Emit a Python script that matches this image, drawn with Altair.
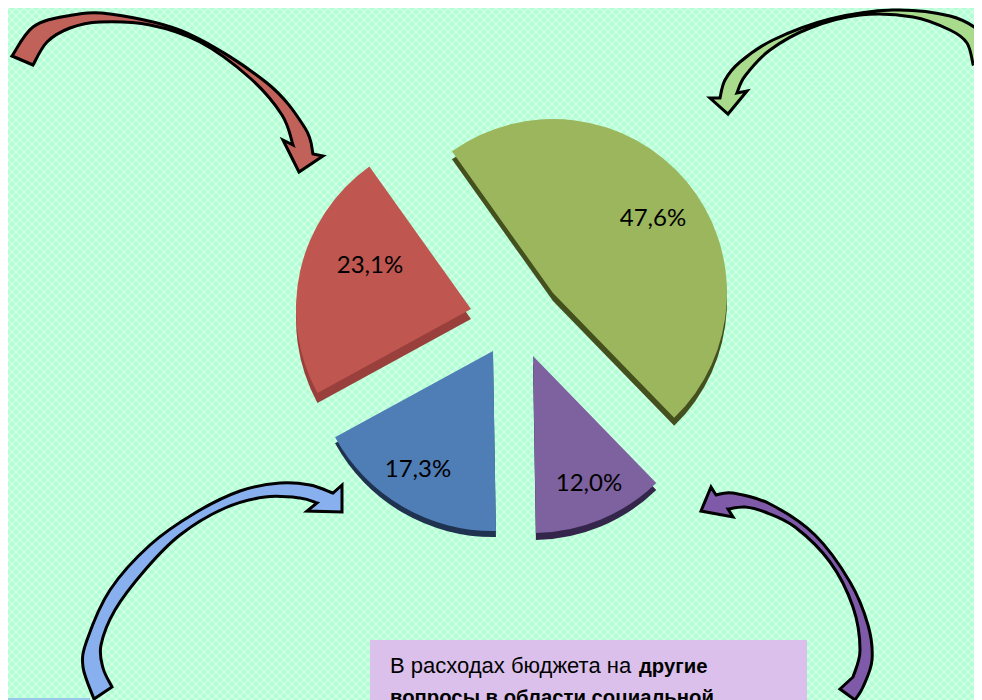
import numpy as np
import pandas as pd
import altair as alt

# ---- chart values ----
shares = [47.6, 12.0, 17.3, 23.1]
labels = ["47,6%", "12,0%", "17,3%", "23,1%"]
colors = ["#9BB65C", "#7E619F", "#4F7DB6", "#BF5650"]
sides = ["#45501F", "#33264A", "#1F3350", "#9A403C"]

# ---- layout (page pixels of the reference; the page margin is taken off) ----
M = 8
W, H = 966, 692
apex_x = [553, 533, 493, 471]
apex_y = [293, 356, 351, 309]
radii = [174, 177, 180, 175]
depth = [8, 7, 6, 10]
label_x = [653, 589, 418, 370]
label_y = [219, 484, 470, 266]
first_angle = np.radians(-35.5)

end = np.cumsum(shares)
start = end - np.array(shares)
pie = pd.DataFrame({
    "share": shares, "label": labels, "color": colors, "side": sides,
    "start": start, "end": end,
    "x": np.array(apex_x) - M, "y": np.array(apex_y) - M,
    "ys": np.array(apex_y) - M + np.array(depth),
    "r": radii,
    "lx": np.array(label_x) - M, "ly": np.array(label_y) - M,
})

theta_scale = alt.Scale(domain=[0, 100], range=[first_angle, first_angle + 2 * np.pi])


def smooth(points):
    """Catmull-Rom path through outline points of a hand-drawn curve."""
    p = [points[0]] + points + [points[-1]]
    out = f"L{points[0][0]} {points[0][1]}"
    for i in range(1, len(p) - 2):
        c1 = (p[i][0] + (p[i + 1][0] - p[i - 1][0]) / 6, p[i][1] + (p[i + 1][1] - p[i - 1][1]) / 6)
        c2 = (p[i + 1][0] - (p[i + 2][0] - p[i][0]) / 6, p[i + 1][1] - (p[i + 2][1] - p[i][1]) / 6)
        out += f"C{c1[0]:.1f} {c1[1]:.1f} {c2[0]:.1f} {c2[1]:.1f} {p[i+1][0]} {p[i+1][1]}"
    return out


def arrow(outer, head, inner):
    d = "M" + smooth(outer)[1:]
    for q in head:
        d += f"L{q[0]} {q[1]}"
    d += smooth(inner) + "Z"
    return d


red_arrow = arrow(
    [(12, 56), (33, 27), (67, 16), (110, 14), (187, 33), (267, 83), (305, 128), (313, 154)],
    [(323, 156), (299, 172), (283, 140)],
    [(293, 145), (282, 115), (250, 78), (200, 42), (150, 25), (100, 22), (70, 28), (47, 42), (33, 65)],
)
green_arrow = arrow(
    [(995, 55), (982, 33), (950, 16), (893, 10), (830, 19), (773, 40), (740, 62), (725, 80), (720, 98)],
    [(710, 98), (728, 114), (747, 91)],
    [(737, 93), (745, 76), (770, 50), (810, 28), (860, 15), (913, 17), (950, 30), (967, 43), (973, 64)],
)
blue_arrow = arrow(
    [(94, 699), (83, 667), (87, 640), (110, 590), (150, 545), (195, 513), (240, 491), (280, 483), (310, 485), (333, 493)],
    [(342, 485), (342, 512), (307, 511)],
    [(317, 503), (300, 498), (265, 497), (225, 508), (180, 535), (145, 570), (115, 610), (101, 645), (103, 668), (112, 687)],
)
purple_arrow = arrow(
    [(716, 495), (733, 493), (770, 504), (815, 535), (850, 582), (868, 625), (872, 660), (863, 687), (855, 700)],
    [(840, 689)],
    [(853, 677), (860, 650), (853, 607), (830, 562), (795, 527), (765, 512), (745, 507), (728, 509)],
)
purple_arrow = purple_arrow[:-1] + "L733 517L701 511L711 487Z"

arrows = pd.DataFrame({
    "path": [red_arrow, green_arrow, blue_arrow, purple_arrow],
    "fill": ["#C0625A", "#A8DC8C", "#88B0EE", "#7F5AA8"],
})

# background weave: two paths of parallel diagonals, brighter where they cross
step = 8
hatch_a, hatch_b = "", ""
for k in range(-H // step - 2, (W + H) // step + 2):
    c = k * step
    hatch_a += f"M{c} 0L{c + H + 16} {H + 16}"
    hatch_b += f"M{c} 0L{c - H - 16} {H + 16}"

weave = alt.Chart(pd.DataFrame({"p": [hatch_a, hatch_b]})).mark_point(
    filled=False, stroke="#FFFFFF", strokeWidth=1.8, opacity=0.34, size=4
).encode(x=alt.value(0), y=alt.value(0), shape=alt.Shape("p:N", scale=None))

common = alt.Chart(pie)
sides_layer = common.mark_arc().encode(
    theta=alt.Theta("start:Q", scale=theta_scale),
    theta2="end:Q",
    x=alt.X("x:Q", scale=None),
    y=alt.Y("ys:Q", scale=None),
    radius=alt.Radius("r:Q", scale=None),
    fill=alt.Fill("side:N", scale=None),
)
tops = common.mark_arc().encode(
    theta=alt.Theta("start:Q", scale=theta_scale),
    theta2="end:Q",
    x=alt.X("x:Q", scale=None),
    y=alt.Y("y:Q", scale=None),
    radius=alt.Radius("r:Q", scale=None),
    fill=alt.Fill("color:N", scale=None),
)
pct = common.mark_text(font="Lato", fontSize=24, color="#000000").encode(
    x=alt.X("lx:Q", scale=None), y=alt.Y("ly:Q", scale=None), text="label:N"
)

arrow_layer = alt.Chart(arrows).mark_point(
    filled=True, stroke="#000000", strokeWidth=3, opacity=1, size=4, strokeJoin="miter"
).encode(
    x=alt.value(-M), y=alt.value(-M),
    shape=alt.Shape("path:N", scale=None),
    fill=alt.Fill("fill:N", scale=None),
)

box = alt.Chart(pd.DataFrame({"a": [0]})).mark_rect(color="#DBC0EC").encode(
    x=alt.value(370 - M), x2=alt.value(807 - M), y=alt.value(640 - M), y2=alt.value(700 - M)
)
strip = alt.Chart(pd.DataFrame({"a": [0]})).mark_rule(color="#8DB4EE", strokeWidth=1.5).encode(
    x=alt.value(0), x2=alt.value(90 - M), y=alt.value(699 - M)
)

note = pd.DataFrame({
    "t": ["В расходах бюджета на", "другие", "вопросы в области социальной"],
    "w": ["normal", "bold", "bold"],
    "x": [390 - M, 639 - M, 390 - M],
    "y": [673 - M, 673 - M, 704 - M],
})
note_enc = dict(x=alt.X("x:Q", scale=None), y=alt.Y("y:Q", scale=None), text="t:N")
note_plain = alt.Chart(note).transform_filter("datum.w == 'normal'").mark_text(
    font="Liberation Sans", fontSize=22, align="left", baseline="alphabetic", color="#000000"
).encode(**note_enc)
note_bold = alt.Chart(note).transform_filter("datum.w == 'bold'").mark_text(
    font="Liberation Sans", fontSize=20.3, fontWeight="bold", align="left", baseline="alphabetic", color="#000000"
).encode(**note_enc)

chart = alt.layer(weave, sides_layer, tops, pct, arrow_layer, box, strip, note_plain, note_bold).properties(
    width=W, height=H, padding=0, background="#AFFFD3",
    autosize=alt.AutoSizeParams(type="none"),
).configure_view(stroke=None)

chart.save("out.html", embed_options={"renderer": "svg", "actions": False})
